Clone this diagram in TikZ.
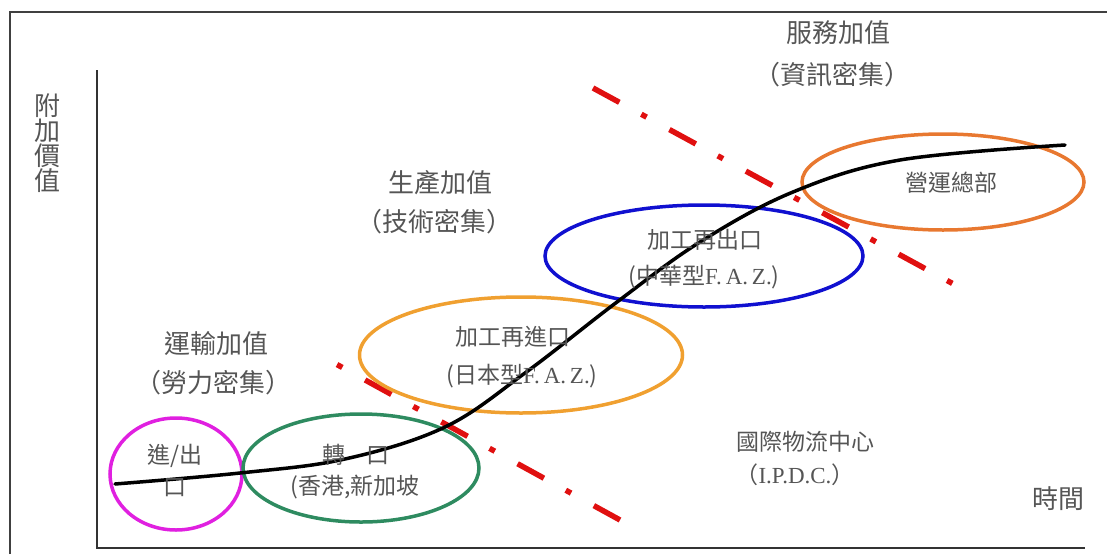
\documentclass[tikz,border=0pt]{standalone}
\usepackage{fontspec}
\setmainfont{Liberation Serif}
\newfontfamily\cjk{Noto Sans CJK TC}
\usetikzlibrary{shapes.geometric}
\definecolor{txtgray}{HTML}{555555}
\definecolor{cMag}{HTML}{E020E0}
\definecolor{cGreen}{HTML}{2E8B60}
\definecolor{cYel}{HTML}{F0A030}
\definecolor{cBlue}{HTML}{1010D0}
\definecolor{cOra}{HTML}{E87830}
\definecolor{cRed}{HTML}{E01010}
\begin{document}
\begin{tikzpicture}[x=1pt,y=-1pt,
  frameline/.style={draw=black!75,line width=2pt},
  axisline/.style={draw=black!80,line width=2.2pt},
  oval/.style={ellipse,draw,line width=3.5pt,inner sep=0pt},
  title/.style={text=txtgray,font=\cjk\fontsize{26}{28}\selectfont,inner sep=0pt},
  inlbl/.style={text=txtgray,font=\cjk\fontsize{23}{25}\selectfont,inner sep=0pt},
  dashdot/.style={draw=cRed,line width=5.5pt,dash pattern=on 30pt off 25pt on 6pt off 26pt},
  curve/.style={draw=black,line width=3.5pt,line cap=round}]
\useasboundingbox (0,0) rectangle (1107,554);
% frame
\coordinate (fbl) at (10,554);
\coordinate (ftl) at (10,12);
\coordinate (ftr) at (1107,12);
\draw[frameline] (fbl) -- (ftl) -- (ftr);
% axes
\coordinate (ytop) at (97,70);
\coordinate (orig) at (97,548);
\coordinate (xend) at (1085,548);
\draw[axisline] (ytop) -- (orig) -- (xend);
% red dash-dot lines
\coordinate (r1a) at (316,353);
\coordinate (r1b) at (620,520);
\coordinate (r2a) at (593,88);
\coordinate (r2b) at (970,293);
\draw[dashdot,dash phase=31pt] (r1a) -- (r1b);
\draw[dashdot] (r2a) -- (r2b);
% ellipses
\node[oval,draw=cMag,minimum width=132pt,minimum height=112pt] (e1) at (176,474) {};
\node[oval,draw=cGreen,minimum width=236pt,minimum height=108pt] (e2) at (361,468) {};
\node[oval,draw=cYel,minimum width=323pt,minimum height=116pt] (e3) at (521,355) {};
\node[oval,draw=cBlue,minimum width=318pt,minimum height=102pt] (e4) at (704,256) {};
\node[oval,draw=cOra,minimum width=282pt,minimum height=96pt] (e5) at (943,182) {};
% curve
\draw[curve] plot[smooth,tension=0.6] coordinates {(115,484) (240,473) (345,459) (445,427) (525,373) (617,302) (700,242) (793,192) (900,160) (1065,145)};
% axis labels
\node[title,align=center] (yl) at (47,143) {附\\[-3pt]加\\[-3pt]價\\[-3pt]值};
\node[title] (xl) at (1058,499) {時間};
% stage titles
\node[title] (t1a) at (838,33) {服務加值};
\node[title] (t1b) at (832,75) {（資訊密集）};
\node[title] (t2a) at (440,183) {生產加值};
\node[title] (t2b) at (434,222) {（技術密集）};
\node[title] (t3a) at (216,344) {運輸加值};
\node[title] (t3b) at (213,383) {（勞力密集）};
% ellipse labels
\node[inlbl] (l1a) at (175,456) {進/出};
\node[inlbl] (l1b) at (175,488) {口};
\node[inlbl] (l2a) at (356,455) {轉\hspace{22pt}口};
\node[inlbl] (l2b) at (355,487) {(香港,新加坡};
\node[inlbl] (l3a) at (513,337) {加工再進口};
\node[inlbl] (l3b) at (522,376) {(日本型{\rmfamily F.\,A.\,Z.})};
\node[inlbl] (l4a) at (705,240) {加工再出口};
\node[inlbl] (l4b) at (704,277) {(中華型{\rmfamily F.\,A.\,Z.})};
\node[inlbl] (l5) at (951,183) {營運總部};
\node[inlbl] (l6a) at (805,442) {國際物流中心};
\node[inlbl] (l6b) at (795,475) {（{\rmfamily I.P.D.C.}）};
\end{tikzpicture}
\end{document}
